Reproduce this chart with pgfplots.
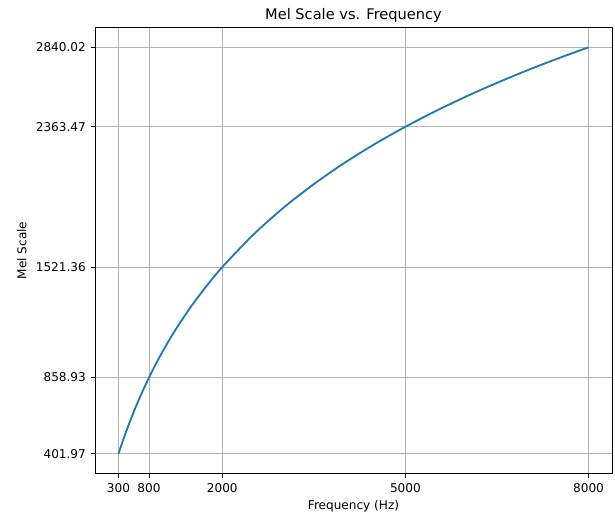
\documentclass[border=0pt]{standalone}
\usepackage{pgfplots}
\pgfplotsset{compat=1.18}
\usetikzlibrary{calc}
\usepackage{fontspec}
\setmainfont{DejaVu Sans}
\definecolor{mplblue}{RGB}{31,119,180}
\begin{document}
\begin{tikzpicture}
\begin{axis}[
  scale only axis,
  width=372.2pt, height=321.8pt,
  xmin=-85, xmax=8385,
  ymin=280.07, ymax=2961.92,
  xtick={300,800,2000,5000,8000},
  ytick={401.97,858.93,1521.36,2363.47,2840.02},
  yticklabels={401.97,858.93,1521.36,2363.47,2840.02},
  xtick pos=bottom, ytick pos=left,
  scaled x ticks=false,
  xticklabel style={/pgf/number format/1000 sep={}},
  /pgf/number format/assume math mode=true,
  tick align=outside,
  tick style={black, line width=0.7pt},
  major tick length=3.06pt,
  xmajorgrids, ymajorgrids,
  grid style={gray!60, line width=0.7pt},
  axis line style={black, line width=0.7pt},
  ticklabel style={font=\fontsize{8.7}{10}\selectfont},
  label style={font=\fontsize{8.7}{10}\selectfont},
  title style={font=\fontsize{10.5}{12}\selectfont,
    at={(axis description cs:0.5,1)}, anchor=base, yshift=-0.5pt},
  xlabel style={at={(axis description cs:0.5,0)}, anchor=base, yshift=-25.9pt},
  ylabel style={at={(axis description cs:-0.1413,0.5)}, anchor=center, rotate=0},
  title={Mel Scale vs. Frequency},
  xlabel={Frequency (Hz)},
  ylabel={Mel Scale},
]
\addplot[mplblue, line width=1.31pt, smooth] coordinates {
(300,401.97) (350,456.96) (400,509.38) (450,559.11) (500,607.45) (600,697.65) (700,781.17)
(800,858.93) (900,931.66) (1000,999.98) (1100,1064.40) (1250,1154.61) (1500,1290.56)
(1750,1411.86) (2000,1521.36) (2500,1712.83) (3000,1876.45) (3500,2019.30)
(4000,2146.06) (4500,2260.00) (5000,2363.47) (5500,2458.22) (6000,2545.63)
(6500,2626.74) (7000,2702.41) (7500,2773.31) (8000,2840.02)
};
\end{axis}
\pgfresetboundingbox
\path ($(current axis.south west)+(-68.4pt,-30.96pt)$) rectangle ($(current axis.north east)+(2.16pt,19.44pt)$);
\end{tikzpicture}
\end{document}
